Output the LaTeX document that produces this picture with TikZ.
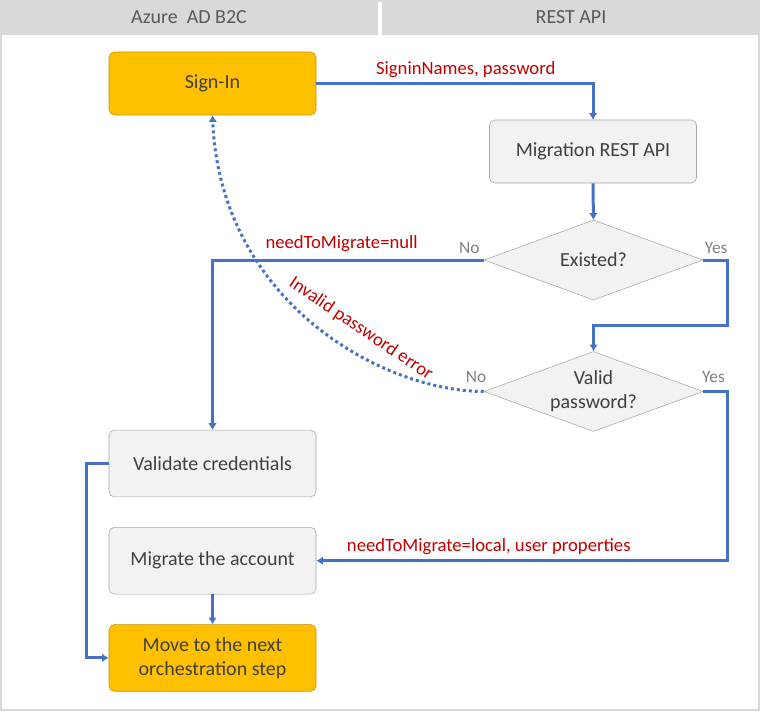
\documentclass[tikz,border=0pt]{standalone}
\usepackage{fontspec}
\setmainfont{Carlito}
\usetikzlibrary{arrows.meta, positioning, shapes.geometric}
\definecolor{flowblue}{HTML}{4472C4}
\definecolor{signgold}{HTML}{FFC000}
\definecolor{goldedge}{HTML}{BF9000}
\definecolor{boxgray}{HTML}{F2F2F2}
\definecolor{edgegray}{HTML}{A6A6A6}
\definecolor{errred}{HTML}{C00000}
\definecolor{lanegray}{HTML}{D9D9D9}
\definecolor{lanetext}{HTML}{595959}
\definecolor{boxtext}{HTML}{404040}
\definecolor{answergray}{HTML}{808080}
\tikzset{
  stepbox/.style={
    rectangle,
    rounded corners=4pt,
    draw=edgegray,
    fill=boxgray,
    align=center,
    text=boxtext,
    minimum width=155.25pt,
    minimum height=50pt,
    font=\fontsize{15}{18}\selectfont
  },
  goldbox/.style={
    stepbox,
    draw=goldedge,
    fill=signgold
  },
  decision/.style={
    diamond,
    aspect=2.75,
    inner sep=0pt,
    draw=edgegray,
    fill=boxgray,
    align=center,
    text=boxtext,
    minimum width=164.25pt,
    minimum height=60pt,
    font=\fontsize{15}{18}\selectfont
  },
  lane/.style={
    rectangle,
    fill=lanegray,
    text=lanetext,
    inner sep=0pt,
    minimum width=283.5pt,
    minimum height=26.25pt,
    font=\fontsize{15}{18}\selectfont
  },
  msg/.style={text=errred, font=\fontsize{14}{16}\selectfont},
  answer/.style={text=answergray, inner xsep=1pt, font=\fontsize{13}{15}\selectfont},
  arrow/.style={-{Latex[length=5pt, width=6.5pt]}, line width=2.25pt, draw=flowblue},
  dotarrow/.style={arrow, dash pattern=on 2.25pt off 2.25pt}
}

\begin{document}
\begin{tikzpicture}[x=0.75pt, y=-0.75pt, node distance=22.5pt]
  \useasboundingbox (0,0) rectangle (760,711);
  \draw[lanegray, line width=1.5pt] (0.5,0.5) rectangle (758.5,710);
  \node[lane] (azurelane) at (189,17.5) {Azure\ \ AD B2C};
  \node[lane] (restlane) at (571,17.5) {REST API};

  \node[goldbox, minimum height=47.25pt] (signin) at (212.5,83.5) {Sign-In};
  \node[stepbox, minimum height=47.25pt] (restapi) at (593,151.5) {Migration REST API};
  \node[decision] (existed) at (593.5,260) {Existed?};
  \node[decision] (validpw) at (593.5,391.5) {Valid\\password?};
  \node[stepbox] (validate) at (212.5,463.5) {Validate credentials};
  \node[stepbox, below=of validate] (migrate) {Migrate the account};
  \node[goldbox, below=of migrate] (nextstep) {Move to the next\\orchestration step};

  \coordinate (yesbend) at (727,325);
  \coordinate (yesrail) at (727,480);

  \draw[arrow] (signin.east) -| (restapi.north)
    node[msg, pos=0.27, above] {SigninNames, password};
  \draw[arrow] (restapi) -- (existed);
  \draw[arrow] (existed.west) -| (validate.north)
    node[msg, pos=0.262, above=2pt] {needToMigrate=null};
  \draw[arrow] (existed.east) -| (yesbend) -| (validpw.north);
  \draw[arrow] (validpw.east) -| (yesrail) |- (migrate.east)
    node[msg, pos=0.79, above] {needToMigrate=local, user properties};
  \draw[dotarrow] (validpw.west) .. controls (380,391) and (220,300) .. (signin.south);
  \draw[arrow] (validate.west) -- ++(-22,0) |- (nextstep.west);
  \draw[arrow] (migrate) -- (nextstep);

  \node[msg, rotate=-34] (pwerror) at (361,329) {Invalid password error};
  \node[answer, anchor=south east] (existedno) at ([xshift=-2pt, yshift=1pt]existed.west) {No};
  \node[answer, anchor=south west] (existedyes) at ([yshift=1pt]existed.east) {Yes};
  \node[answer, anchor=south east] (validno) at ([xshift=3pt, yshift=3pt]validpw.west) {No};
  \node[answer, anchor=south west] (validyes) at ([xshift=-2pt, yshift=3pt]validpw.east) {Yes};
\end{tikzpicture}
\end{document}
